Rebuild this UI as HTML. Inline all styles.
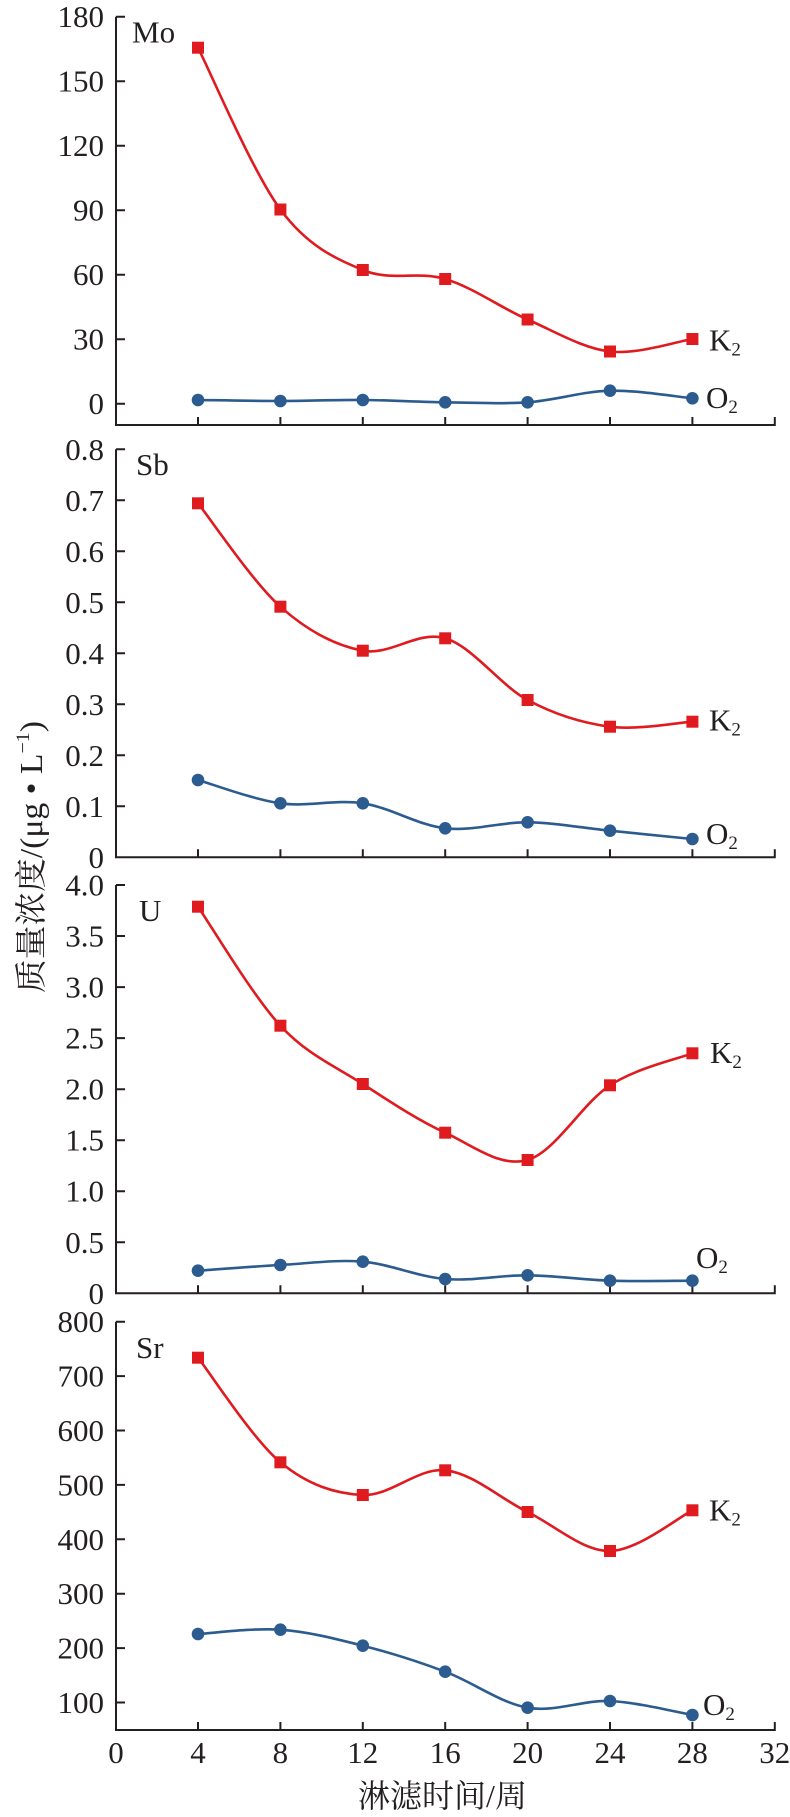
<!DOCTYPE html>
<html><head><meta charset="utf-8"><style>
html,body{margin:0;padding:0;background:#fff;}
svg{display:block;}
text{font-family:"Liberation Serif","Noto Serif CJK SC",serif;fill:#231f20;}
.t{font-size:31px;}
.ax{stroke:#231f20;stroke-width:2;fill:none;}
.rl{stroke:#e01b1f;stroke-width:2.6;fill:none;}
.bl{stroke:#2b5b8f;stroke-width:2.6;fill:none;}
.rs{fill:#e01b1f;}
.bc{fill:#2b5b8f;}
</style></head><body>
<svg width="790" height="1817" viewBox="0 0 790 1817" xmlns="http://www.w3.org/2000/svg">
<!-- ===== Panel 1 Mo ===== -->
<path class="ax" d="M116,16.7 V425 H775.8 M116,16.7 H125 M116,81.2 H125 M116,145.7 H125 M116,210.2 H125 M116,274.7 H125 M116,339.2 H125 M116,403.7 H125
M198,425 V417 M280.4,425 V417 M362.8,425 V417 M445.2,425 V417 M527.6,425 V417 M610,425 V417 M692.4,425 V417 M774.8,425 V417"/>
<g class="t" text-anchor="end">
<text x="104" y="27.2">180</text><text x="104" y="91.7">150</text><text x="104" y="156.2">120</text><text x="104" y="220.7">90</text><text x="104" y="285.2">60</text><text x="104" y="349.7">30</text><text x="104" y="414.2">0</text>
</g>
<text class="t" x="132" y="42.7">Mo</text>
<path class="rl" d="M198,47.7 C211.7,74.7 252.9,172.45 280.4,209.5 C307.9,246.55 335.3,258.42 362.8,270 C390.3,281.58 417.7,270.75 445.2,279 C472.7,287.25 500.1,307.42 527.6,319.5 C555.1,331.58 582.5,348.25 610,351.5 C637.5,354.75 678.7,341.08 692.4,339"/>
<path class="bl" d="M198,400 C211.7,400.17 252.9,401 280.4,401 C307.9,401 335.3,399.78 362.8,400 C390.3,400.22 417.7,401.92 445.2,402.3 C472.7,402.68 500.1,404.23 527.6,402.3 C555.1,400.37 582.5,391.37 610,390.7 C637.5,390.03 678.7,397.03 692.4,398.3"/>
<g class="rs"><rect x="192" y="41.7" width="12" height="12"/><rect x="274.4" y="203.5" width="12" height="12"/><rect x="356.8" y="264" width="12" height="12"/><rect x="439.2" y="273" width="12" height="12"/><rect x="521.6" y="313.5" width="12" height="12"/><rect x="604" y="345.5" width="12" height="12"/><rect x="686.4" y="333" width="12" height="12"/></g>
<g class="bc"><circle cx="198" cy="400" r="6.3"/><circle cx="280.4" cy="401" r="6.3"/><circle cx="362.8" cy="400" r="6.3"/><circle cx="445.2" cy="402.3" r="6.3"/><circle cx="527.6" cy="402.3" r="6.3"/><circle cx="610" cy="390.7" r="6.3"/><circle cx="692.4" cy="398.3" r="6.3"/></g>
<text class="t" x="709" y="350.6">K<tspan font-size="19" dy="5">2</tspan></text>
<text class="t" x="706" y="408">O<tspan font-size="19" dy="5">2</tspan></text>

<!-- ===== Panel 2 Sb ===== -->
<path class="ax" d="M116,449.3 V857.3 H775.8 M116,449.3 H125 M116,500.3 H125 M116,551.3 H125 M116,602.3 H125 M116,653.3 H125 M116,704.3 H125 M116,755.3 H125 M116,806.3 H125
M198,857.3 V849.3 M280.4,857.3 V849.3 M362.8,857.3 V849.3 M445.2,857.3 V849.3 M527.6,857.3 V849.3 M610,857.3 V849.3 M692.4,857.3 V849.3 M774.8,857.3 V849.3"/>
<g class="t" text-anchor="end">
<text x="104" y="459.8">0.8</text><text x="104" y="510.8">0.7</text><text x="104" y="561.8">0.6</text><text x="104" y="612.8">0.5</text><text x="104" y="663.8">0.4</text><text x="104" y="714.8">0.3</text><text x="104" y="765.8">0.2</text><text x="104" y="816.8">0.1</text><text x="104" y="867.8">0</text>
</g>
<text class="t" x="136" y="475">Sb</text>
<path class="rl" d="M198,503.3 C211.7,520.53 252.9,582.13 280.4,606.7 C307.9,631.27 335.3,645.43 362.8,650.7 C390.3,655.97 417.7,630.08 445.2,638.3 C472.7,646.52 500.1,685.27 527.6,700 C555.1,714.73 582.5,723.08 610,726.7 C637.5,730.32 678.7,722.53 692.4,721.7"/>
<path class="bl" d="M198,780 C211.7,783.88 252.9,799.42 280.4,803.3 C307.9,807.18 335.3,799.13 362.8,803.3 C390.3,807.47 417.7,825.13 445.2,828.3 C472.7,831.47 500.1,821.9 527.6,822.3 C555.1,822.7 582.5,827.92 610,830.7 C637.5,833.48 678.7,837.62 692.4,839"/>
<g class="rs"><rect x="192" y="497.3" width="12" height="12"/><rect x="274.4" y="600.7" width="12" height="12"/><rect x="356.8" y="644.7" width="12" height="12"/><rect x="439.2" y="632.3" width="12" height="12"/><rect x="521.6" y="694" width="12" height="12"/><rect x="604" y="720.7" width="12" height="12"/><rect x="686.4" y="715.7" width="12" height="12"/></g>
<g class="bc"><circle cx="198" cy="780" r="6.3"/><circle cx="280.4" cy="803.3" r="6.3"/><circle cx="362.8" cy="803.3" r="6.3"/><circle cx="445.2" cy="828.3" r="6.3"/><circle cx="527.6" cy="822.3" r="6.3"/><circle cx="610" cy="830.7" r="6.3"/><circle cx="692.4" cy="839" r="6.3"/></g>
<text class="t" x="709" y="730.6">K<tspan font-size="19" dy="5">2</tspan></text>
<text class="t" x="706" y="844">O<tspan font-size="19" dy="5">2</tspan></text>

<!-- ===== Panel 3 U ===== -->
<path class="ax" d="M116,885 V1293.3 H775.8 M116,885 H125 M116,936 H125 M116,987.1 H125 M116,1038.1 H125 M116,1089.2 H125 M116,1140.2 H125 M116,1191.2 H125 M116,1242.3 H125
M198,1293.3 V1285.3 M280.4,1293.3 V1285.3 M362.8,1293.3 V1285.3 M445.2,1293.3 V1285.3 M527.6,1293.3 V1285.3 M610,1293.3 V1285.3 M692.4,1293.3 V1285.3 M774.8,1293.3 V1285.3"/>
<g class="t" text-anchor="end">
<text x="104" y="895.5">4.0</text><text x="104" y="946.5">3.5</text><text x="104" y="997.6">3.0</text><text x="104" y="1048.6">2.5</text><text x="104" y="1099.7">2.0</text><text x="104" y="1150.7">1.5</text><text x="104" y="1201.7">1.0</text><text x="104" y="1252.8">0.5</text><text x="104" y="1303.8">0</text>
</g>
<text class="t" x="139" y="921">U</text>
<path class="rl" d="M198,906.7 C211.7,926.53 252.9,996.15 280.4,1025.7 C307.9,1055.25 335.3,1066.17 362.8,1084 C390.3,1101.83 417.7,1120.03 445.2,1132.7 C472.7,1145.37 500.1,1167.9 527.6,1160 C555.1,1152.1 582.5,1103.08 610,1085.3 C637.5,1067.52 678.7,1058.63 692.4,1053.3"/>
<path class="bl" d="M198,1270.7 C211.7,1269.75 252.9,1266.5 280.4,1265 C307.9,1263.5 335.3,1259.37 362.8,1261.7 C390.3,1264.03 417.7,1276.73 445.2,1279 C472.7,1281.27 500.1,1275.02 527.6,1275.3 C555.1,1275.58 582.5,1279.8 610,1280.7 C637.5,1281.6 678.7,1280.7 692.4,1280.7"/>
<g class="rs"><rect x="192" y="900.7" width="12" height="12"/><rect x="274.4" y="1019.7" width="12" height="12"/><rect x="356.8" y="1078" width="12" height="12"/><rect x="439.2" y="1126.7" width="12" height="12"/><rect x="521.6" y="1154" width="12" height="12"/><rect x="604" y="1079.3" width="12" height="12"/><rect x="686.4" y="1047.3" width="12" height="12"/></g>
<g class="bc"><circle cx="198" cy="1270.7" r="6.3"/><circle cx="280.4" cy="1265" r="6.3"/><circle cx="362.8" cy="1261.7" r="6.3"/><circle cx="445.2" cy="1279" r="6.3"/><circle cx="527.6" cy="1275.3" r="6.3"/><circle cx="610" cy="1280.7" r="6.3"/><circle cx="692.4" cy="1280.7" r="6.3"/></g>
<text class="t" x="710" y="1063">K<tspan font-size="19" dy="5">2</tspan></text>
<text class="t" x="696" y="1268">O<tspan font-size="19" dy="5">2</tspan></text>

<!-- ===== Panel 4 Sr ===== -->
<path class="ax" d="M116,1321.7 V1730 H775.8 M116,1321.7 H125 M116,1376.1 H125 M116,1430.5 H125 M116,1484.9 H125 M116,1539.3 H125 M116,1593.7 H125 M116,1648.1 H125 M116,1702.5 H125
M198,1730 V1722 M280.4,1730 V1722 M362.8,1730 V1722 M445.2,1730 V1722 M527.6,1730 V1722 M610,1730 V1722 M692.4,1730 V1722 M774.8,1730 V1722"/>
<g class="t" text-anchor="end">
<text x="104" y="1332.2">800</text><text x="104" y="1386.6">700</text><text x="104" y="1441">600</text><text x="104" y="1495.4">500</text><text x="104" y="1549.8">400</text><text x="104" y="1604.2">300</text><text x="104" y="1658.6">200</text><text x="104" y="1713">100</text>
</g>
<text class="t" x="136" y="1358">Sr</text>
<path class="rl" d="M198,1357.7 C211.7,1375.13 252.9,1439.42 280.4,1462.3 C307.9,1485.18 335.3,1493.67 362.8,1495 C390.3,1496.33 417.7,1467.47 445.2,1470.3 C472.7,1473.13 500.1,1498.55 527.6,1512 C555.1,1525.45 582.5,1551.28 610,1551 C637.5,1550.72 678.7,1517.08 692.4,1510.3"/>
<path class="bl" d="M198,1634 C211.7,1633.28 252.9,1627.75 280.4,1629.7 C307.9,1631.65 335.3,1638.7 362.8,1645.7 C390.3,1652.7 417.7,1661.37 445.2,1671.7 C472.7,1682.03 500.1,1702.82 527.6,1707.7 C555.1,1712.58 582.5,1699.78 610,1701 C637.5,1702.22 678.7,1712.67 692.4,1715"/>
<g class="rs"><rect x="192" y="1351.7" width="12" height="12"/><rect x="274.4" y="1456.3" width="12" height="12"/><rect x="356.8" y="1489" width="12" height="12"/><rect x="439.2" y="1464.3" width="12" height="12"/><rect x="521.6" y="1506" width="12" height="12"/><rect x="604" y="1545" width="12" height="12"/><rect x="686.4" y="1504.3" width="12" height="12"/></g>
<g class="bc"><circle cx="198" cy="1634" r="6.3"/><circle cx="280.4" cy="1629.7" r="6.3"/><circle cx="362.8" cy="1645.7" r="6.3"/><circle cx="445.2" cy="1671.7" r="6.3"/><circle cx="527.6" cy="1707.7" r="6.3"/><circle cx="610" cy="1701" r="6.3"/><circle cx="692.4" cy="1715" r="6.3"/></g>
<text class="t" x="709" y="1520.6">K<tspan font-size="19" dy="5">2</tspan></text>
<text class="t" x="703" y="1715">O<tspan font-size="19" dy="5">2</tspan></text>

<!-- x tick labels -->
<g class="t" text-anchor="middle">
<text x="116" y="1763">0</text><text x="198" y="1763">4</text><text x="280.4" y="1763">8</text><text x="362.8" y="1763">12</text><text x="445.2" y="1763">16</text><text x="527.6" y="1763">20</text><text x="610" y="1763">24</text><text x="692.4" y="1763">28</text><text x="774.8" y="1763">32</text>
</g>
<!-- axis titles -->
<text x="442.5" y="1807" font-size="32" text-anchor="middle" font-family="'Liberation Serif','Noto Serif CJK SC',serif">淋滤时间/周</text>
<text transform="translate(42,857) rotate(-90)" x="0" y="0" font-size="32" text-anchor="middle" textLength="272" lengthAdjust="spacingAndGlyphs" font-family="'Liberation Serif','Noto Serif CJK SC',serif">质量浓度/(μg • L<tspan font-size="19" dy="-13">−1</tspan><tspan dy="13">)</tspan></text>
</svg>
</body></html>
